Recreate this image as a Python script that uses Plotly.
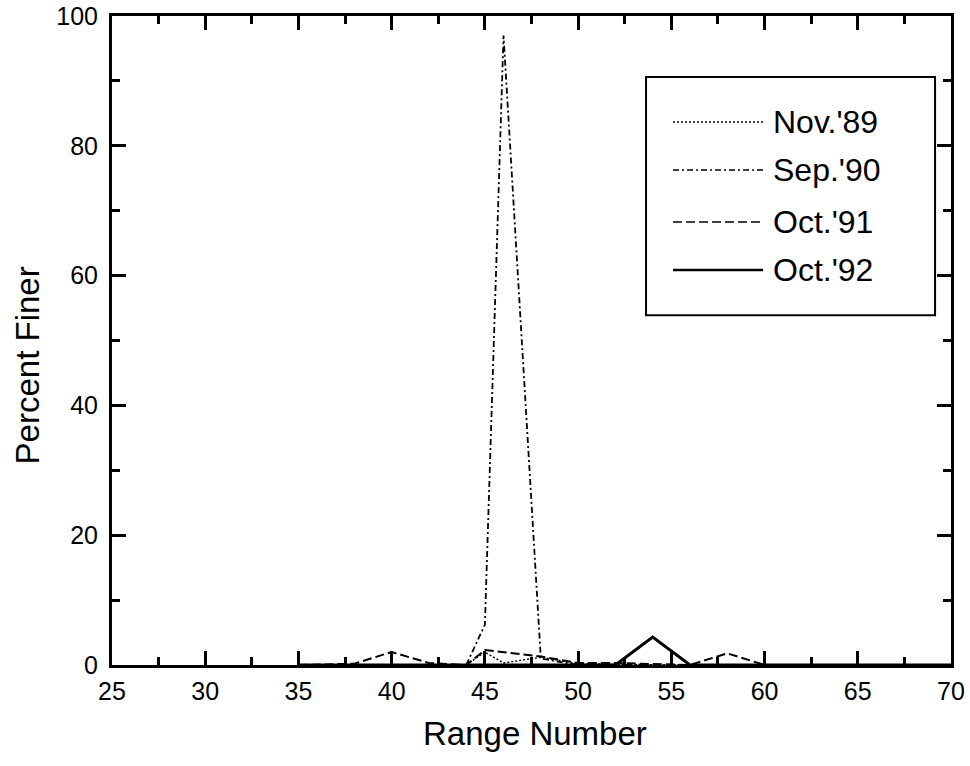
import plotly.graph_objects as go

# ---- data ----
nov89_x = [35, 40, 44, 45, 46, 48, 50, 55, 60, 65, 70]
nov89_y = [0, 0, 0, 2.0, 0.3, 1.2, 0.2, 0, 0, 0, 0]

sep90_x = [35, 40, 44, 45, 46, 48, 50, 55, 60, 65, 70]
sep90_y = [0, 0, 0, 6.2, 97, 1.0, 0, 0, 0, 0, 0]

oct91_x = [35, 38, 40, 42, 44, 45, 48, 50, 52, 56, 58, 60, 65, 70]
oct91_y = [0, 0.2, 2.0, 0.3, 0, 2.3, 1.3, 0.3, 0.3, 0, 1.8, 0, 0, 0]

oct92_x = [35, 40, 45, 50, 52, 54, 56, 60, 65, 70]
oct92_y = [0, 0, 0, 0, 0, 4.3, 0, 0, 0, 0]

series_names = ["Nov.'89", "Sep.'90", "Oct.'91", "Oct.'92"]
series_dash = ["2px,2px", "6px,3px,2px,3px", "9px,4px", "solid"]
series_width = [1.4, 1.8, 2.0, 3.0]

x_ticks = [25, 30, 35, 40, 45, 50, 55, 60, 65, 70]
y_ticks = [0, 20, 40, 60, 80, 100]

FONT = "Liberation Sans, Arial, sans-serif"

fig = go.Figure()
for name, xs, ys, dash, w in zip(series_names,
                                 [nov89_x, sep90_x, oct91_x, oct92_x],
                                 [nov89_y, sep90_y, oct91_y, oct92_y],
                                 series_dash, series_width):
    fig.add_trace(go.Scatter(x=xs, y=ys, mode="lines", name=name,
                             line=dict(color="black", dash=dash, width=w),
                             showlegend=False))

# ---- custom legend (paper coordinates) ----
box = dict(x0=0.6365, x1=0.981, y0=0.539, y1=0.906)
fig.add_shape(type="rect", xref="paper", yref="paper", **box,
              line=dict(color="black", width=2), fillcolor="white", layer="above")
entry_y = [0.8367, 0.7627, 0.6826, 0.6086]
for name, dash, w, yy in zip(series_names, series_dash, series_width, entry_y):
    fig.add_shape(type="line", xref="paper", yref="paper",
                  x0=0.6687, x1=0.776, y0=yy, y1=yy,
                  line=dict(color="black", dash=dash, width=max(w - 0.4, 1.3)),
                  layer="above")
    fig.add_annotation(xref="paper", yref="paper", x=0.786, y=yy,
                       text=name, showarrow=False, xanchor="left", yanchor="middle",
                       font=dict(family=FONT, size=32, color="black"))

# ---- axis titles as annotations ----
fig.add_annotation(xref="paper", yref="paper", x=0.504, y=-0.106,
                   text="Range Number", showarrow=False, xanchor="center", yanchor="middle",
                   font=dict(family=FONT, size=33, color="black"))
fig.add_annotation(xref="paper", yref="paper", x=-0.101, y=0.462,
                   text="Percent Finer", showarrow=False, textangle=-90,
                   xanchor="center", yanchor="middle",
                   font=dict(family=FONT, size=33, color="black"))

axis_common = dict(
    showgrid=False, zeroline=False, showline=True, linecolor="black", linewidth=3,
    mirror="allticks", ticks="inside", ticklen=14, tickwidth=2.5, tickcolor="black",
    tickfont=dict(family=FONT, size=25, color="black"), automargin=False,
)

fig.update_xaxes(range=[25, 70], tickvals=x_ticks, ticktext=[str(v) for v in x_ticks],
                 minor=dict(dtick=2.5, tick0=25, ticks="inside", ticklen=8, tickwidth=2.5,
                            tickcolor="black"),
                 ticklabelstandoff=2,
                 **axis_common)
fig.update_yaxes(range=[0, 100], tickvals=y_ticks, ticktext=[str(v) for v in y_ticks],
                 minor=dict(dtick=10, tick0=0, ticks="inside", ticklen=8, tickwidth=2.5,
                            tickcolor="black"),
                 ticklabelstandoff=6,
                 **axis_common)

fig.update_layout(
    width=970, height=766,
    margin=dict(l=112, r=19, t=16, b=101),
    paper_bgcolor="white", plot_bgcolor="white",
    font=dict(family=FONT, color="black"),
)

fig.write_html("out.html")
